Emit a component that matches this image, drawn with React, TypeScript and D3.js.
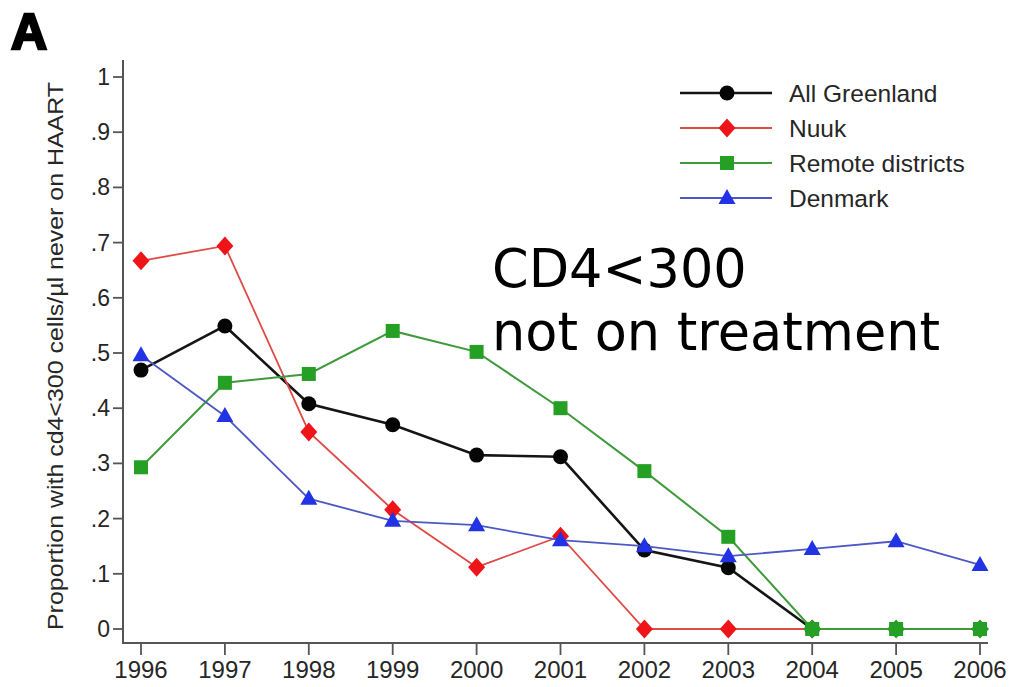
import React from "react";
import * as d3 from "d3";

const years = [1996, 1997, 1998, 1999, 2000, 2001, 2002, 2003, 2004, 2005, 2006];
const allGreenland = [0.469, 0.549, 0.408, 0.37, 0.315, 0.312, 0.143, 0.111, 0];
const nuuk = [0.667, 0.694, 0.357, 0.216, 0.112, 0.168, 0, 0, 0];
const remote = [0.293, 0.446, 0.462, 0.54, 0.502, 0.4, 0.286, 0.167, 0, 0, 0];
const denmark = [0.496, 0.386, 0.236, 0.196, 0.188, 0.161, 0.15, 0.132, 0.145, 0.159, 0.116];
const yTicks = [0, 0.1, 0.2, 0.3, 0.4, 0.5, 0.6, 0.7, 0.8, 0.9, 1];

type Series = { name: string; values: number[]; color: string; line: string; shape: string; width: number };
const series: Series[] = [
  { name: "All Greenland", values: allGreenland, color: "#050505", line: "#151515", shape: "circle", width: 2.6 },
  { name: "Nuuk", values: nuuk, color: "#ee1418", line: "#e04a46", shape: "diamond", width: 1.8 },
  { name: "Remote districts", values: remote, color: "#26a024", line: "#3f9a3c", shape: "square", width: 2 },
  { name: "Denmark", values: denmark, color: "#2233e6", line: "#4d58c4", shape: "triangle", width: 1.8 },
];
const legendOrder = ["All Greenland", "Nuuk", "Remote districts", "Denmark"];

function Marker({ shape, x, y, color, zero }: { shape: string; x: number; y: number; color: string; zero?: boolean }) {
  if (shape === "circle") return <circle cx={x} cy={y} r={7.5} fill={color} />;
  if (shape === "diamond")
    return <path d={`M${x},${y - 9.5}L${x + 8.5},${y}L${x},${y + 9.5}L${x - 8.5},${y}Z`} fill={color} />;
  if (shape === "square") {
    if (zero)
      return (
        <g fill={color}>
          <rect x={x - 7} y={y - 7} width={14} height={14} />
          <path d={`M${x},${y - 9.5}L${x + 9},${y}L${x},${y + 9.5}L${x - 9},${y}Z`} />
        </g>
      );
    return <rect x={x - 7} y={y - 7} width={14} height={14} fill={color} />;
  }
  return <path d={`M${x},${y - 9}L${x + 8.5},${y + 6}L${x - 8.5},${y + 6}Z`} fill={color} />;
}

export default function App() {
  const W = 1011, H = 687;
  const x = d3.scaleLinear().domain([1996, 2006]).range([141, 980]);
  const y = d3.scaleLinear().domain([0, 1]).range([629, 77]);
  const fmt = (v: number) => (v === 0 ? "0" : v === 1 ? "1" : d3.format(".1f")(v).replace(/^0/, ""));
  const line = d3.line<[number, number]>().x((d) => x(d[0])).y((d) => y(d[1]));
  const axisColor = "#555";
  const font = "Liberation Sans, Arial, sans-serif";
  const textColor = "#262626";
  return (
    <svg width={W} height={H} style={{ position: "absolute", left: 0, top: 0, background: "#fff" }}>
      <rect width={W} height={H} fill="#fff" />
      <text x={11} y={49} fontFamily={font} fontWeight={900} fontSize={50} fill="#000" stroke="#000" strokeWidth={2.5}>A</text>
      {/* y axis */}
      <line x1={123} x2={123} y1={60} y2={643} stroke={axisColor} strokeWidth={2} />
      {yTicks.map((t) => (
        <g key={t}>
          <line x1={113} x2={123} y1={y(t)} y2={y(t)} stroke={axisColor} strokeWidth={1.8} />
          <text x={110} y={y(t) + 8} textAnchor="end" fontFamily={font} fontSize={23} fill={textColor}>{fmt(t)}</text>
        </g>
      ))}
      <text transform={`translate(63,356) rotate(-90)`} textAnchor="middle" fontFamily={font} fontSize={22}
        textLength={548} lengthAdjust="spacingAndGlyphs" fill={textColor}>
        Proportion with cd4&lt;300 cells/µl never on HAART
      </text>
      {/* x axis */}
      <line x1={122} x2={988} y1={643} y2={643} stroke={axisColor} strokeWidth={2} />
      {years.map((yr) => (
        <g key={yr}>
          <line x1={x(yr)} x2={x(yr)} y1={643} y2={655} stroke={axisColor} strokeWidth={1.8} />
          <text x={x(yr)} y={678} textAnchor="middle" fontFamily={font} fontSize={24} fill={textColor}>{yr}</text>
        </g>
      ))}
      {/* series */}
      {series.map((s) => {
        const pts: [number, number][] = s.values.map((v, i) => [years[i], v]);
        return (
          <g key={s.name}>
            <path d={line(pts) || ""} fill="none" stroke={s.line} strokeWidth={s.width} />
            {pts.map((p, i) => (
              <Marker key={i} shape={s.shape} x={x(p[0])} y={y(p[1])} color={s.color} zero={p[1] === 0} />
            ))}
          </g>
        );
      })}
      {/* legend */}
      {legendOrder.map((n, i) => {
        const s = series.find((q) => q.name === n)!;
        const ly = 93 + i * 35;
        return (
          <g key={n}>
            <line x1={680} x2={772} y1={ly} y2={ly} stroke={s.line} strokeWidth={s.width} />
            <Marker shape={s.shape} x={727} y={ly} color={s.color} />
            <text x={789} y={ly + 9} fontFamily={font} fontSize={24.5} fill={textColor}>{n}</text>
          </g>
        );
      })}
      {/* annotation */}
      <text x={492} y={287} fontFamily="DejaVu Sans, sans-serif" fontSize={52.5} fill="#000">CD4&lt;300</text>
      <text x={492} y={350} fontFamily="DejaVu Sans, sans-serif" fontSize={52.5} fill="#000">not on treatment</text>
    </svg>
  );
}
